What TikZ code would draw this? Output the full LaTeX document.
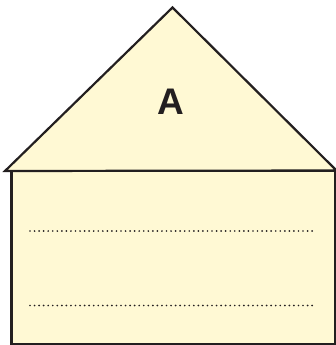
\documentclass[tikz,border=0pt]{standalone}
\usepackage{fontspec}
\setmainfont{Liberation Sans}
\definecolor{cream}{RGB}{255,249,212}
\definecolor{ink}{RGB}{35,31,32}
\tikzset{
  outline/.style={draw=ink, line width=2.2pt, fill=cream, line join=miter},
  dotline/.style={draw=ink, line width=1.9pt, line cap=round, dash pattern=on 0pt off 4.55pt},
  label/.style={font=\fontsize{37}{40}\selectfont\bfseries, text=ink, inner sep=0pt}
}
\begin{document}
\begin{tikzpicture}[x=1pt,y=-1pt]
\useasboundingbox (0,0) rectangle (336,345);
\coordinate (apex) at (172.5,7.5);
\coordinate (rl) at (5,171);
\coordinate (rr) at (336.5,170.5);
\coordinate (bl) at (11.5,171);
\coordinate (br) at (335,171);
\coordinate (bbl) at (11.5,344);
\coordinate (bbr) at (335,344);
\draw[outline] (bl) -- (bbl) -- (bbr) -- (br) -- cycle;
\draw[outline] (rl) -- (apex) -- (rr) -- cycle;
\node[label] (A) at (170.5,101.5) {A};
\coordinate (d1a) at (30,231);
\coordinate (d1b) at (316,231);
\coordinate (d2a) at (30,305.5);
\coordinate (d2b) at (316,305.5);
\draw[dotline] (d1a) -- (d1b);
\draw[dotline] (d2a) -- (d2b);
\end{tikzpicture}
\end{document}
